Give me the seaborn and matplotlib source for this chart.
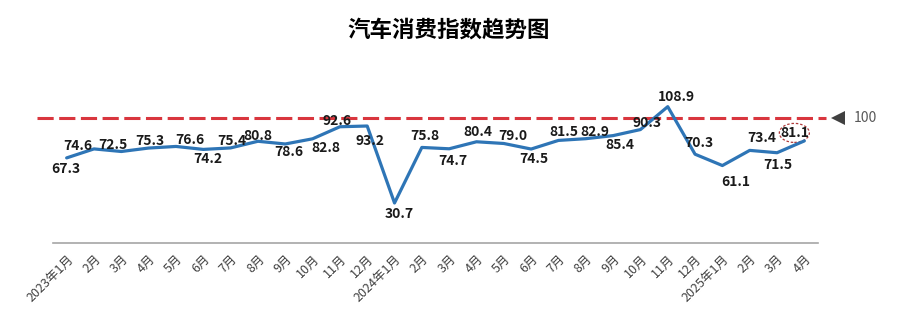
import numpy as np
import pandas as pd
import matplotlib
matplotlib.use("Agg")
import matplotlib.pyplot as plt
from matplotlib.patches import Ellipse
import seaborn as sns

months = ["2023年1月", "2月", "3月", "4月", "5月", "6月", "7月", "8月", "9月", "10月", "11月", "12月",
          "2024年1月", "2月", "3月", "4月", "5月", "6月", "7月", "8月", "9月", "10月", "11月", "12月",
          "2025年1月", "2月", "3月", "4月"]
index_values = [67.3, 74.6, 72.5, 75.3, 76.6, 74.2, 75.4, 80.8, 78.6, 82.8, 92.6, 93.2,
                30.7, 75.8, 74.7, 80.4, 79.0, 74.5, 81.5, 82.9, 85.4, 90.3, 108.9, 70.3,
                61.1, 73.4, 71.5, 81.1]
baseline = 100
title = "汽车消费指数趋势图"

# label offsets in pixels (dx, dy up)
label_offsets = [(-1, -11), (-16, 3), (-8, 6), (1, 7), (14, 6), (5, -10), (1, 7), (0, 5),
                 (4, -8), (13, -9), (-3, 6), (3, -15), (5, -11), (3, 11), (4, -12), (1, 10),
                 (9, 7), (3, -10), (5, 8), (9, 7), (7, -9), (7, 7), (9, 10), (4, 11),
                 (13, -16), (12, 12), (1, -12), (-10, 8)]

sns.set_theme(style="white")
plt.rcParams['font.family'] = ['Noto Sans CJK SC', 'DejaVu Sans']

df = pd.DataFrame({"idx": np.arange(len(months)), "value": index_values})

fig = plt.figure(figsize=(8.98, 3.31), dpi=100)
W, H = 898, 331
ax = fig.add_axes([53 / W, 1 - 243 / H, (818 - 53) / W, (243 - 93) / H])

sns.lineplot(data=df, x="idx", y="value", ax=ax, color="#2E75B6", linewidth=2.3)

n = len(months)
ax.set_xlim(-0.5, n - 0.5)
ax.set_ylim(-1.8, 120)

# baseline dashed line
ax.plot([-1.1, n - 0.2], [baseline, baseline], color="#D9363E", lw=2.2,
        dashes=(5.3, 1.8), clip_on=False, zorder=1)
ax.plot([n - 0.2 + 0.45], [baseline], marker="<", color="#404040", markersize=9.5,
        clip_on=False, markeredgewidth=0)
ax.text(n - 0.2 + 1.0, baseline, str(baseline), color="#595959", fontsize=10,
        va="center", ha="left", clip_on=False)

for i, (v, (dx, dy)) in enumerate(zip(index_values, label_offsets)):
    ax.annotate(f"{v:.1f}", (i, v), xytext=(dx, dy), textcoords="offset pixels",
                ha="center", va="center", fontsize=10, fontweight="bold", color="#1a1a1a")

# highlight ellipse around last label
last = n - 1
ell_x = last - 10 / 27.32
ell_y = index_values[last] + 8 / 1.231
ax.add_patch(Ellipse((ell_x, ell_y), width=30 / 27.32, height=19 / 1.231, fill=False,
                     edgecolor="#B03A3A", lw=0.9, ls=(0, (2, 1.5)), clip_on=False))

# axes styling
for s in ["left", "right", "top"]:
    ax.spines[s].set_visible(False)
ax.spines["bottom"].set_color("#A6A6A6")
ax.spines["bottom"].set_linewidth(1.2)
ax.set_yticks([])
ax.set_xticks(np.arange(-0.5, n, 1.0))
ax.set_xticklabels([])
ax.tick_params(axis="x", which="major", direction="out", length=4, color="#A6A6A6", width=1)
ax.set_xticks(np.arange(n), minor=True)
ax.set_xticklabels(months, minor=True, rotation=45, ha="right", va="top",
                   rotation_mode="anchor", fontsize=9, color="#404040")
ax.tick_params(axis="x", which="minor", length=0, pad=7)
ax.set_xlabel("")
ax.set_ylabel("")

fig.text(0.5, 1 - 30 / H, title, ha="center", va="center", fontsize=16.2,
         fontweight="heavy", color="#000000")

fig.savefig("out.png", dpi=100)
